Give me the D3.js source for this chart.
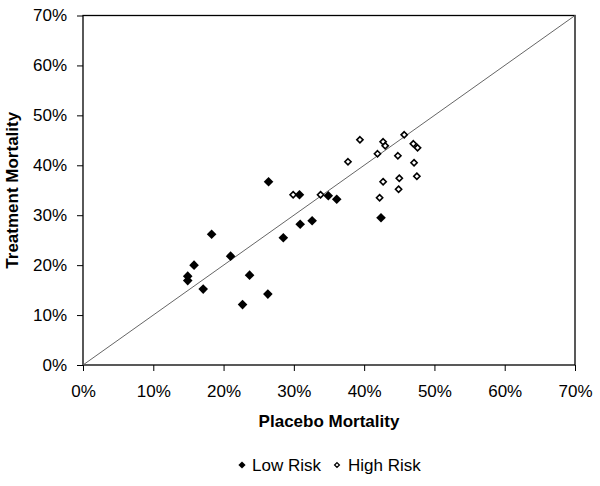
<!DOCTYPE html>
<html><head><meta charset="utf-8">
<script src="https://cdn.jsdelivr.net/npm/d3@7"></script>
<style>body{margin:0;background:#fff}svg{display:block}text{font-family:"Liberation Sans",Arial,sans-serif}</style>
</head><body><svg id="c" width="600" height="486"></svg>
<script>
const tickValues = [0,0.1,0.2,0.3,0.4,0.5,0.6,0.7];
const lowRiskPlacebo   = [0.264,0.308,0.349,0.361,0.183,0.309,0.326,0.285,0.210,0.158,0.149,0.149,0.171,0.237,0.263,0.227,0.424];
const lowRiskTreatment = [0.367,0.341,0.339,0.332,0.262,0.282,0.289,0.255,0.218,0.200,0.178,0.169,0.152,0.180,0.142,0.121,0.295];
const highRiskPlacebo   = [0.299,0.338,0.394,0.427,0.430,0.457,0.470,0.476,0.419,0.448,0.377,0.471,0.450,0.427,0.475,0.449,0.422];
const highRiskTreatment = [0.341,0.341,0.451,0.447,0.439,0.461,0.443,0.435,0.423,0.419,0.407,0.405,0.374,0.367,0.378,0.352,0.335];
const seriesNames = ["Low Risk","High Risk"];

const svg = d3.select("#c");
const L=83,R=575,T=15.5,B=365;
const x = d3.scaleLinear().domain([0,0.7]).range([L,R]);
const y = d3.scaleLinear().domain([0,0.7]).range([B,T]);
const fmt = d3.format(".0%");

const gx = svg.append("g").attr("transform",`translate(0,${B})`)
  .call(d3.axisBottom(x).tickValues(tickValues).tickFormat(fmt).tickSize(6).tickPadding(14));
const gy = svg.append("g").attr("transform",`translate(${L},0)`)
  .call(d3.axisLeft(y).tickValues(tickValues).tickFormat(fmt).tickSize(6).tickPadding(10));
[gx,gy].forEach(g=>{
  g.select(".domain").remove();
  g.selectAll(".tick line").attr("stroke","#000");
  g.selectAll("text").attr("font-size",17).attr("fill","#000").attr("font-family","Liberation Sans, Arial, sans-serif");
});

svg.append("rect").attr("x",L).attr("y",T).attr("width",R-L).attr("height",B-T)
  .attr("fill","none").attr("stroke","#000").attr("stroke-width",1.3);

svg.append("line").attr("x1",x(0)).attr("y1",y(0)).attr("x2",x(0.7)).attr("y2",y(0.7))
  .attr("stroke","#666").attr("stroke-width",1);

const diamond = r => `M0,${-r}L${r},0L0,${r}L${-r},0Z`;
const low = lowRiskPlacebo.map((p,i)=>[p,lowRiskTreatment[i]]);
const high = highRiskPlacebo.map((p,i)=>[p,highRiskTreatment[i]]);

svg.append("g").selectAll("path").data(high).join("path")
  .attr("d",diamond(3.1))
  .attr("transform",d=>`translate(${x(d[0])},${y(d[1])})`)
  .attr("fill","#fff").attr("stroke","#000").attr("stroke-width",1.6);
svg.append("g").selectAll("path").data(low).join("path")
  .attr("d",diamond(4.8))
  .attr("transform",d=>`translate(${x(d[0])},${y(d[1])})`)
  .attr("fill","#000");

svg.append("text").attr("x",(L+R)/2).attr("y",427).attr("text-anchor","middle")
  .attr("font-size",17).attr("font-weight","bold").text("Placebo Mortality");
svg.append("text").attr("transform",`translate(18,${(T+B)/2}) rotate(-90)`).attr("text-anchor","middle")
  .attr("font-size",17).attr("font-weight","bold").text("Treatment Mortality");

// legend
const lg = svg.append("g");
lg.append("path").attr("d",diamond(3.6)).attr("transform","translate(242,465)").attr("fill","#000");
lg.append("text").attr("x",252).attr("y",470.5).attr("font-size",17).text(seriesNames[0]);
lg.append("path").attr("d",diamond(2.4)).attr("transform","translate(337,465)").attr("fill","#fff").attr("stroke","#000").attr("stroke-width",1.3);
lg.append("text").attr("x",348).attr("y",470.5).attr("font-size",17).text(seriesNames[1]);
</script></body></html>
